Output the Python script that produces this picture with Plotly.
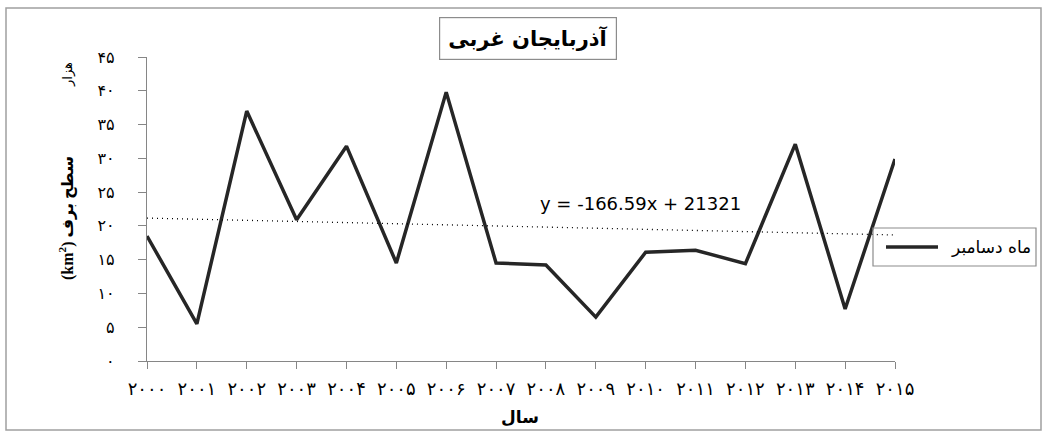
import plotly.graph_objects as go

# ---- data ----
years = list(range(2000, 2016))
year_labels = ["۲۰۰۰", "۲۰۰۱", "۲۰۰۲", "۲۰۰۳", "۲۰۰۴", "۲۰۰۵", "۲۰۰۶", "۲۰۰۷",
               "۲۰۰۸", "۲۰۰۹", "۲۰۱۰", "۲۰۱۱", "۲۰۱۲", "۲۰۱۳", "۲۰۱۴", "۲۰۱۵"]
snow_dec = [18.5, 5.5, 37.0, 20.9, 31.8, 14.5, 39.8, 14.5,
            14.2, 6.5, 16.1, 16.4, 14.4, 32.1, 7.7, 29.9]  # thousand km2
y_ticks = [0, 5, 10, 15, 20, 25, 30, 35, 40, 45]
y_tick_labels = ["۰", "۵", "۱۰", "۱۵", "۲۰", "۲۵", "۳۰", "۳۵", "۴۰", "۴۵"]
trend_slope = -166.59
trend_intercept = 21321
series_name = "ماه دسامبر"
title_text = "آذربایجان غربی"
x_title = "سال"
y_title = "(km<sup>2</sup>) سطح برف"
unit_text = "هزار"
eq_text = "y = -166.59x + 21321"

trend_vals = [(trend_slope * (i + 1) + trend_intercept) / 1000 for i in range(len(years))]

# ---- layout geometry (pixels) ----
W, H = 1045, 432
L, R, T, B = 147, 895, 57, 361


def px(x):
    return (x - L) / (R - L)


def py(y):
    return (B - y) / (B - T)


AX = "#868686"
FA = "DejaVu Sans"

fig = go.Figure()
fig.add_trace(go.Scatter(x=years, y=snow_dec, mode="lines", name=series_name,
                         line=dict(color="#262626", width=3.5), showlegend=False,
                         cliponaxis=False))
fig.add_trace(go.Scatter(x=years, y=trend_vals, mode="lines", name="trend",
                         line=dict(color="#000000", width=1.3, dash="1px,4px"), showlegend=False,
                         cliponaxis=False))

shapes = [
    # outer chart border
    dict(type="rect", xref="paper", yref="paper", x0=px(6), x1=px(1041), y0=py(8), y1=py(430),
         line=dict(color="#a0a0a0", width=1.5), fillcolor="rgba(0,0,0,0)", layer="below"),
    # legend box
    dict(type="rect", xref="paper", yref="paper", x0=px(873), x1=px(1036), y0=py(228), y1=py(266),
         line=dict(color="#8c8c8c", width=1.2), fillcolor="rgba(0,0,0,0)"),
    # legend line sample
    dict(type="line", xref="paper", yref="paper", x0=px(886), x1=px(938), y0=py(247), y1=py(247),
         line=dict(color="#262626", width=3.5)),
]

annotations = [
    dict(text="<b>" + title_text + "</b>", xref="paper", yref="paper", x=px(528), y=py(38),
         showarrow=False, font=dict(family=FA, size=21, color="#000"),
         bordercolor="#8c8c8c", borderwidth=1.2, borderpad=8, xanchor="center", yanchor="middle"),
    dict(text=eq_text, xref="paper", yref="paper", x=px(640), y=py(203), showarrow=False,
         font=dict(family="DejaVu Sans", size=18, color="#000"),
         xanchor="center", yanchor="middle"),
    dict(text=series_name, xref="paper", yref="paper", x=px(1033), y=py(247), showarrow=False,
         font=dict(family=FA, size=17, color="#000"), xanchor="right", yanchor="middle"),
    dict(text="<b>" + x_title + "</b>", xref="paper", yref="paper", x=px(520), y=py(417),
         showarrow=False, font=dict(family=FA, size=17, color="#000"),
         xanchor="center", yanchor="middle"),
    dict(text="<b>" + y_title + "</b>", xref="paper", yref="paper", x=px(66), y=py(218),
         showarrow=False, textangle=-90, font=dict(family="Liberation Serif, DejaVu Sans", size=16, color="#000"),
         xanchor="center", yanchor="middle"),
    dict(text=unit_text, xref="paper", yref="paper", x=px(68), y=py(75),
         showarrow=False, textangle=-90, font=dict(family=FA, size=13, color="#000"),
         xanchor="center", yanchor="middle"),
]

fig.update_layout(
    width=W, height=H,
    margin=dict(l=L, r=W - R, t=T, b=H - B, pad=0),
    paper_bgcolor="white", plot_bgcolor="white",
    showlegend=False,
    shapes=shapes, annotations=annotations,
    xaxis=dict(range=[2000, 2015], tickvals=years, ticktext=year_labels,
               showgrid=False, zeroline=False, showline=True, linecolor=AX, linewidth=1.3,
               ticks="outside", ticklen=7, tickcolor=AX, tickwidth=1.3,
               tickfont=dict(family=FA, size=18, color="#000"), ticklabelstandoff=4,
               tickangle=0, fixedrange=True),
    yaxis=dict(range=[0, 45], tickvals=y_ticks, ticktext=y_tick_labels,
               showgrid=False, zeroline=False, showline=True, linecolor=AX, linewidth=1.3,
               ticks="outside", ticklen=8, tickcolor=AX, tickwidth=1.3,
               tickfont=dict(family=FA, size=16, color="#000"), ticklabelstandoff=20,
               fixedrange=True),
)

fig.write_html("out.html", config={"displayModeBar": False},
               post_script="document.body.style.margin='0';document.body.style.overflow='hidden';")
